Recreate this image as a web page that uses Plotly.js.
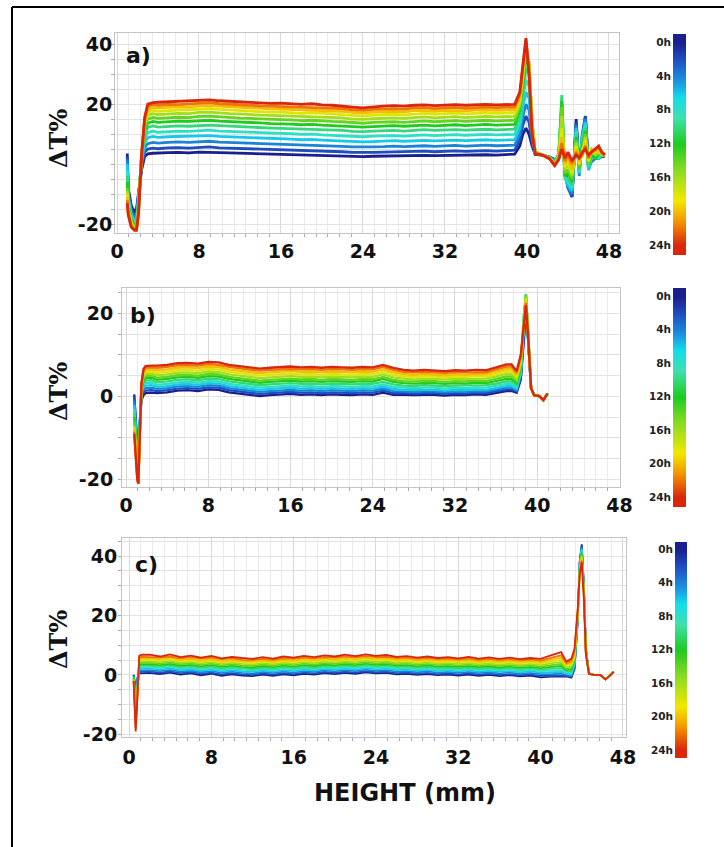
<!DOCTYPE html>
<html><head><meta charset="utf-8">
<script src="https://cdn.plot.ly/plotly-3.0.1.min.js"></script>
<style>html,body{margin:0;padding:0;background:#fff}#chart{width:724px;height:847px}</style>
</head><body><div id="chart"></div>
<script>
// ---------- categories / ticks ----------
const hours = [0,2,4,6,8,10,12,14,16,18,20,22,24];
const hourTicks = [0,4,8,12,16,20,24];
const hourLabels = ['0h','4h','8h','12h','16h','20h','24h'];
const barHours = [-1,0,2,4,6,8,10,12,14,16,18,20,22,24,25.5];
const yTicksA = [-20,20,40];
const yTicksB = [-20,0,20];
const yTicksC = [-20,0,20,40];

// ---------- panel a ----------
const xA = [1.0,1.1,1.4,1.7,1.9,2.1,2.4,2.7,3.0,3.5,
4,5,6,7,8,9,10,11,12,13,14,15,16,17,18,19,20,21,22,23,24,25,26,27,28,29,30,31,32,33,34,35,36,37,38,
38.8,39.3,39.6,39.9,40.2,40.5,40.8,41.5,42.2,42.7,
43.1,43.4,43.7,44.0,44.4,44.8,45.1,45.4,45.7,46.0,46.3,46.7,47.0,47.3,47.6];
const a00 = [3.5,-8,-14,-16,-15,-9,-2,2.5,3.4,3.6,
3.6,3.8,3.9,3.7,4.0,4.0,3.8,3.7,3.6,3.5,3.4,3.3,3.3,3.2,3.1,3.1,2.9,2.8,2.8,2.6,2.5,2.6,2.7,2.8,2.7,2.9,2.9,2.8,2.9,3.0,2.9,3.0,3.1,3.0,3.2,
3.3,6,10,12,10,6,3.2,3.0,2.3,1.5,
2,12,-1,-7,-11,15,-2,8,16,0,1,2,2,2.5,2.7];
const a02 = [2.5,-9,-15,-17,-16.5,-10,-1,4,5.0,5.3,
5.1,5.4,5.5,5.3,5.6,5.7,5.4,5.3,5.2,5.0,4.9,4.8,4.8,4.6,4.5,4.6,4.3,4.2,4.1,3.9,3.8,3.9,4.0,4.1,4.0,4.2,4.3,4.1,4.3,4.4,4.2,4.4,4.5,4.3,4.5,
4.6,8,13,16,14,7,3.4,3.0,2.3,1.4,
2,14,-2,-8,-11,14,-3,10,16,-1,1,2,2,2.5,2.7];
const a04 = [1.5,-10,-16,-18,-18,-11,0,5.5,6.8,7.2,
7.0,7.2,7.4,7.2,7.5,7.6,7.3,7.2,7.0,6.9,6.8,6.6,6.6,6.4,6.3,6.4,6.1,6.0,5.9,5.7,5.6,5.7,5.8,6.0,5.8,6.0,6.1,5.9,6.1,6.2,6.0,6.2,6.3,6.1,6.3,
6.3,10,16,20,18,9,3.6,3.0,2.2,1.2,
2.5,16,-3,-8,-10,13,-4,10,15,-2,1,2,2,3,2.7];
const a06 = [0,-11,-17,-19,-19,-12,1,7,8.8,9.2,
8.9,9.1,9.2,9.1,9.4,9.5,9.2,9.1,8.9,8.8,8.6,8.5,8.5,8.3,8.1,8.2,8.0,7.8,7.7,7.5,7.4,7.5,7.6,7.8,7.6,7.8,7.9,7.7,7.9,8.0,7.8,8.0,8.1,7.9,8.0,
8.1,12,19,24,22,10,3.8,3.0,2.2,1.0,
3,18,-4,-7,-9,12,-3,9,14,-2,2,3,2,3,2.7];
const a08 = [-2,-12,-17.5,-19.5,-19.5,-12.5,2,8.5,10.5,11.0,
10.6,10.8,11.0,10.9,11.2,11.3,11.0,10.9,10.7,10.5,10.4,10.3,10.2,10.1,9.9,10.0,9.7,9.6,9.5,9.2,9.1,9.3,9.4,9.5,9.3,9.6,9.7,9.5,9.7,9.8,9.6,9.8,9.9,9.7,9.8,
9.9,14,22,28,26,12,4.0,3.0,2.1,0.8,
3,20,-5,-6,-8,11,-3,8,13,-1,2,3,2,3,2.8];
const a10 = [-4,-13,-18,-20,-20,-13,2.5,10,12.2,12.7,
12.3,12.6,12.7,12.6,12.9,13.0,12.8,12.6,12.4,12.3,12.1,12.0,11.9,11.8,11.6,11.7,11.4,11.3,11.2,10.9,10.8,11.0,11.1,11.2,11.0,11.3,11.5,11.2,11.4,11.5,11.3,11.5,11.6,11.4,11.5,
11.6,16,25,32,30,13,4.0,3.0,2.1,0.6,
3.5,23,-4,-5,-7,10,-2,7,12,-1,3,2,3,3,2.8];
const a12 = [-6,-14,-18.5,-20.5,-20.5,-13.5,3,11,13.6,14.2,
13.9,14.1,14.3,14.2,14.5,14.6,14.3,14.2,14.0,13.8,13.7,13.5,13.5,13.3,13.1,13.2,13.0,12.8,12.7,12.4,12.3,12.5,12.6,12.8,12.6,12.9,13.0,12.7,12.9,13.1,12.8,13.1,13.2,13.0,13.1,
13.2,18,27,35,33,14,4.0,3.0,2.0,0.4,
3,21,-4,-3,-6,9,-1,6,11,0,3,2,4,3,2.8];
const a14 = [-8,-14.5,-19,-21,-21,-14,3,12,15.0,15.5,
15.2,15.5,15.6,15.5,15.9,16.0,15.7,15.6,15.3,15.2,15.0,14.9,14.8,14.7,14.5,14.6,14.3,14.2,14.1,13.8,13.6,13.9,14.0,14.1,13.9,14.2,14.4,14.1,14.3,14.5,14.2,14.5,14.6,14.4,14.5,
14.6,19,29,37,34,14,4.0,3.0,2.0,0.2,
3,19,-3,-2,-5,8,-1,5,10,0,4,3,4,3,3];
const a16 = [-9,-15,-19.5,-21.5,-21.5,-14.5,3.5,13,16.2,16.8,
16.5,16.7,16.9,16.8,17.2,17.3,17.0,16.8,16.7,16.4,16.3,16.2,16.1,16.0,15.8,15.9,15.6,15.5,15.4,15.0,14.9,15.1,15.3,15.4,15.2,15.5,15.7,15.4,15.6,15.8,15.5,15.8,15.9,15.7,15.8,
15.9,20,30,39,34,14,3.9,3.0,2.0,0,
2.5,16,-2,0,-4,7,0,4,9,1,4,3,4,3,3];
const a18 = [-10,-15.5,-20,-22,-22,-15,3.5,14,17.2,17.8,
17.6,17.9,18.0,18.1,18.3,18.5,18.2,18.0,17.8,17.6,17.5,17.3,17.3,17.1,16.9,17.1,16.8,16.7,16.5,16.2,16.0,16.3,16.4,16.6,16.4,16.7,16.9,16.6,16.8,17.0,16.7,17.0,17.1,16.9,17.0,
17.1,21,31,40,33,13,3.8,3.0,1.9,-0.2,
2,12,-1,1,-3,6,0,4,8,1,5,4,4.5,3.5,3];
const a20 = [-11,-16,-20.5,-22,-22,-15.5,3.5,14.5,18.2,18.8,
18.7,18.9,19.1,19.0,19.4,19.5,19.3,19.0,18.9,18.6,18.5,18.4,18.3,18.2,18.0,18.1,17.8,17.7,17.6,17.2,17.0,17.3,17.5,17.6,17.4,17.8,17.8,17.6,17.9,17.9,17.7,18.0,18.1,17.9,18.0,
18.1,22,32,41,32,12,3.7,3.0,1.9,-0.3,
2,9,0,2,-2,5,1,3,7,2,5,4,5,3.5,3];
const a22 = [-12,-16.5,-21,-22,-22,-16,3,15,19.2,19.8,
19.6,19.9,19.8,20.1,20.3,20.5,20.1,20.0,19.7,19.6,19.4,19.3,19.2,19.1,18.9,19.0,18.8,18.6,18.5,18.1,17.9,18.2,18.4,18.5,18.3,18.7,18.8,18.5,18.7,18.9,18.6,18.9,19.0,18.8,18.9,
19.0,23,33,41.5,31,11,3.6,3.0,1.8,-0.4,
1.8,7,1,3,0,4,2,3,6,2,4,5,5.5,4,3];
const a24 = [-13,-17,-21,-22,-22,-16.5,3,15.5,20.0,20.5,
20.6,20.8,20.9,21.0,21.3,21.4,21.1,20.9,20.7,20.5,20.4,20.2,20.3,20.0,19.9,20.1,19.7,19.6,19.4,19.0,18.7,19.1,19.3,19.5,19.3,19.6,19.7,19.5,19.7,19.8,19.6,19.8,19.9,19.7,19.8,
19.9,24,34,42,30,10,3.5,3.0,1.8,-0.5,
1.5,5,2,4,1,3,2,4,5,3,4,5,6,4,3];

// ---------- panel b ----------
const xB = [0.8,0.9,1.0,1.1,1.2,1.35,1.5,1.7,1.9,2.5,
3,4,5,6,7,8,9,10,11,12,13,14,15,16,17,18,19,20,21,22,23,24,25,26,27,28,29,30,31,32,33,34,35,36,37,
37.5,38.0,38.4,38.7,38.9,39.1,39.4,39.7,40.2,40.6,41.0];
const b00 = [0.5,-3,-8,-13,-15,-6,-1,0.3,0.8,0.9,
0.8,1.0,1.4,1.5,1.3,1.7,1.6,1.0,0.7,0.3,0.1,0.3,0.4,0.6,0.4,0.5,0.3,0.5,0.4,0.3,0.5,0.4,0.9,0.4,0.4,0.3,0.4,0.4,0.2,0.4,0.3,0.5,0.4,0.8,1.3,
1.3,0.9,4,15,20,14,2,0.3,0.1,-0.9,0.7];
const b02 = [0,-4,-9,-14,-16,-6,0,1.0,1.4,1.5,
1.3,1.5,1.9,2.0,1.8,2.2,2.1,1.5,1.2,0.8,0.6,0.8,0.9,1.1,0.9,1.0,0.8,1.0,0.9,0.8,1.0,0.9,1.4,0.8,0.8,0.7,0.8,0.8,0.6,0.8,0.7,0.9,0.8,1.2,1.7,
1.7,1.2,4.5,16,21,14.5,2,0.3,0.1,-0.9,0.7];
const b04 = [-1,-5,-10,-15,-17,-6,0.5,1.6,2.0,2.1,
1.8,2.0,2.4,2.5,2.3,2.7,2.6,2.0,1.7,1.3,1.1,1.3,1.4,1.6,1.4,1.5,1.3,1.5,1.4,1.3,1.5,1.4,1.9,1.3,1.2,1.1,1.2,1.2,1.0,1.2,1.1,1.3,1.2,1.6,2.1,
2.1,1.5,5,17,22,15,2,0.3,0.1,-0.9,0.7];
const b06 = [-2,-6,-11,-16,-18,-7,1,2.2,2.6,2.7,
2.3,2.5,2.9,3.0,2.8,3.2,3.1,2.5,2.2,1.8,1.6,1.8,1.9,2.1,1.9,2.0,1.8,2.0,1.9,1.8,2.0,1.9,2.4,1.8,1.6,1.5,1.6,1.6,1.4,1.6,1.5,1.7,1.6,2.0,2.5,
2.5,1.8,5.5,18,23,15.5,2,0.3,0.1,-0.9,0.7];
const b08 = [-3,-7,-12,-17,-19,-7,1.5,2.8,3.2,3.3,
2.8,3.0,3.4,3.5,3.3,3.7,3.6,3.0,2.7,2.3,2.1,2.3,2.4,2.6,2.4,2.5,2.3,2.5,2.4,2.3,2.5,2.4,2.9,2.3,2.1,2.0,2.1,2.1,1.9,2.1,2.0,2.2,2.1,2.5,3.0,
3.0,2.2,6,18.5,24,16,2,0.3,0.1,-0.9,0.7];
const b10 = [-4,-8,-13,-17.5,-19.5,-7.5,2,3.3,3.8,3.9,
3.4,3.6,4.0,4.1,3.9,4.3,4.2,3.6,3.3,2.9,2.7,2.9,3.0,3.2,3.0,3.1,2.9,3.1,3.0,2.9,3.1,3.0,3.5,2.9,2.6,2.5,2.7,2.6,2.5,2.6,2.6,2.7,2.7,3.1,3.6,
3.6,2.7,6.5,19,24.5,16.5,2,0.3,0.1,-0.9,0.7];
const b12 = [-5,-9,-14,-18,-20,-8,2,3.8,4.4,4.5,
4.0,4.2,4.6,4.7,4.5,4.9,4.8,4.2,3.9,3.5,3.3,3.5,3.6,3.8,3.6,3.7,3.5,3.7,3.6,3.5,3.7,3.6,4.2,3.5,3.2,3.1,3.2,3.2,3.0,3.2,3.1,3.3,3.2,3.7,4.2,
4.2,3.2,7,19.5,24.5,16.5,2,0.3,0.1,-0.9,0.7];
const b14 = [-6,-10,-15,-18.5,-20.5,-8,2.5,4.3,4.9,5.0,
4.5,4.7,5.1,5.2,5.0,5.4,5.3,4.7,4.4,4.0,3.8,4.0,4.1,4.3,4.1,4.2,4.0,4.2,4.1,4.0,4.2,4.1,4.7,4.0,3.7,3.6,3.7,3.7,3.5,3.7,3.6,3.8,3.7,4.2,4.8,
4.8,3.7,7.5,19.5,24.5,16,2,0.3,0.1,-0.9,0.7];
const b16 = [-7,-11,-15.5,-19,-21,-8.5,2.5,4.8,5.4,5.5,
5.1,5.3,5.7,5.8,5.6,6.0,5.9,5.3,5.0,4.6,4.4,4.6,4.7,4.9,4.7,4.8,4.6,4.8,4.7,4.6,4.8,4.7,5.3,4.6,4.3,4.1,4.3,4.2,4.1,4.2,4.2,4.3,4.3,4.8,5.4,
5.4,4.2,8,19,24,16,2,0.3,0.1,-0.9,0.7];
const b18 = [-7.5,-11.5,-16,-19.5,-21,-8.5,3,5.3,5.9,6.0,
5.7,5.9,6.3,6.4,6.2,6.6,6.5,5.9,5.6,5.2,5.0,5.2,5.3,5.5,5.3,5.4,5.2,5.4,5.3,5.2,5.4,5.3,5.9,5.2,4.8,4.7,4.8,4.8,4.6,4.8,4.7,4.9,4.8,5.4,6.0,
6.0,4.7,8.5,19,23.5,15.5,2,0.3,0.1,-0.9,0.7];
const b20 = [-8,-12,-16.5,-20,-21,-9,3,5.8,6.4,6.5,
6.3,6.5,6.9,7.0,6.8,7.2,7.1,6.5,6.2,5.8,5.6,5.8,5.9,6.1,5.9,6.0,5.8,6.0,5.9,5.8,6.0,5.9,6.5,5.8,5.4,5.2,5.4,5.3,5.1,5.3,5.2,5.4,5.3,6.0,6.6,
6.6,5.2,9,18.5,23,15.5,2,0.3,0.1,-0.9,0.7];
const b22 = [-8.5,-12.5,-17,-20,-21,-9,3,6.2,6.9,7.0,
6.9,7.1,7.5,7.5,7.4,7.8,7.6,7.1,6.8,6.4,6.2,6.4,6.5,6.6,6.5,6.6,6.4,6.6,6.5,6.4,6.6,6.5,7.1,6.4,5.9,5.8,5.9,5.8,5.7,5.8,5.8,5.9,5.8,6.5,7.2,
7.2,5.7,9.6,18,22.5,15,2,0.3,0.1,-0.9,0.7];
const b24 = [-9,-13,-17,-20,-21,-9,3,6.6,7.3,7.4,
7.4,7.6,8.0,8.1,7.9,8.3,8.2,7.6,7.3,6.9,6.7,6.9,7.0,7.2,7.0,7.1,6.9,7.1,7.0,6.9,7.1,7.0,7.6,6.9,6.4,6.2,6.4,6.3,6.1,6.3,6.2,6.4,6.3,7.0,7.7,
7.7,6.1,10,18,22,15,2,0.3,0.1,-0.9,0.7];

// ---------- panel c ----------
const xC = [0.45,0.55,0.65,0.75,0.85,1.0,1.3,
2,3,4,5,6,7,8,9,10,11,12,13,14,15,16,17,18,19,20,21,22,23,24,25,26,27,28,29,30,31,32,33,34,35,36,37,38,39,40,41,42,
42.5,43.0,43.3,43.6,43.8,44.0,44.2,44.4,44.7,45.2,45.8,46.3,46.7,47.1];
const c00 = [0,-2,-4,-3,-0.5,0.5,0.6,
0.7,0.3,0.8,0.1,0.5,-0.1,0.4,-0.3,0.2,-0.2,-0.4,0.1,-0.3,0.2,-0.1,0.4,0.1,0.6,0.3,0.7,0.4,0.9,0.5,0.7,0.2,0.4,0.0,0.3,-0.1,0.1,-0.2,0.1,-0.3,0.0,-0.4,-0.1,-0.5,-0.2,-0.8,-0.6,-0.5,
-0.5,-0.9,2,17.5,38,44,30.5,9,0.5,0,0,-1.5,-0.3,1.0];
const c02 = [0,-3,-5,-4,-1,1.0,1.1,
1.2,0.8,1.2,0.6,0.9,0.4,0.8,0.2,0.6,0.2,0.0,0.5,0.1,0.6,0.3,0.8,0.5,1.0,0.7,1.1,0.8,1.3,0.9,1.1,0.6,0.8,0.4,0.7,0.3,0.5,0.2,0.5,0.1,0.4,0.0,0.3,-0.1,0.2,-0.3,-0.2,-0.1,
-0.3,-0.6,2.5,18,38,43.5,30,8.5,0.5,0,0,-1.5,-0.3,1.0];
const c04 = [-0.5,-4,-6.5,-5,-1,1.5,1.6,
1.6,1.3,1.7,1.1,1.4,0.9,1.3,0.7,1.1,0.7,0.5,1.0,0.6,1.1,0.8,1.3,1.0,1.5,1.2,1.6,1.3,1.8,1.4,1.6,1.1,1.3,0.9,1.2,0.8,1.0,0.7,1.0,0.6,0.9,0.5,0.8,0.4,0.7,0.3,0.3,0.4,
0,-0.3,3,18,37.5,43,30,8.5,0.5,0,0,-1.5,-0.3,1.0];
const c06 = [-0.5,-5,-8,-6,-1.5,2.0,2.1,
2.1,1.8,2.2,1.6,1.9,1.4,1.8,1.2,1.6,1.2,1.0,1.5,1.1,1.6,1.3,1.8,1.5,2.0,1.7,2.1,1.8,2.3,1.9,2.1,1.6,1.8,1.4,1.7,1.3,1.5,1.2,1.5,1.1,1.4,1.0,1.3,0.9,1.2,0.8,0.9,1.0,
0.4,0.1,3.5,18.5,37,42.5,29.5,8.5,0.5,0,0,-1.5,-0.3,1.0];
const c08 = [-1,-6,-9.5,-7,-1.5,2.5,2.6,
2.6,2.3,2.7,2.1,2.4,1.9,2.3,1.7,2.1,1.7,1.5,2.0,1.6,2.1,1.8,2.3,2.0,2.5,2.2,2.6,2.3,2.8,2.4,2.6,2.1,2.3,1.9,2.2,1.8,2.0,1.7,2.0,1.6,1.9,1.5,1.8,1.4,1.7,1.3,1.5,1.6,
0.8,0.6,4,18.5,37,42,29.5,8,0.5,0,0,-1.5,-0.3,1.0];
const c10 = [-1,-7,-11,-8,-2,3.0,3.1,
3.1,2.8,3.2,2.6,2.9,2.4,2.8,2.2,2.6,2.2,2.0,2.5,2.1,2.6,2.3,2.8,2.5,3.0,2.7,3.1,2.8,3.3,2.9,3.1,2.6,2.8,2.4,2.7,2.3,2.5,2.2,2.5,2.1,2.4,2.0,2.3,1.9,2.2,1.8,2.1,2.3,
1.2,1.2,4.5,19,36.5,41.5,29,8,0.4,0,0,-1.5,-0.3,1.0];
const c12 = [-1,-7.5,-12,-9,-2,3.5,3.6,
3.6,3.3,3.7,3.1,3.4,2.9,3.3,2.7,3.1,2.7,2.5,3.0,2.6,3.1,2.8,3.3,3.0,3.5,3.2,3.6,3.3,3.8,3.4,3.6,3.1,3.3,2.9,3.2,2.8,3.0,2.7,3.0,2.6,2.9,2.5,2.8,2.4,2.7,2.3,2.7,3.0,
1.6,1.8,5,19,36,41,29,8,0.4,0,0,-1.5,-0.3,1.0];
const c14 = [-1.5,-8,-13,-9.5,-2,4.0,4.1,
4.1,3.8,4.2,3.6,3.9,3.4,3.8,3.2,3.6,3.2,3.0,3.5,3.1,3.6,3.3,3.8,3.5,4.0,3.7,4.1,3.8,4.3,3.9,4.1,3.6,3.8,3.4,3.7,3.3,3.5,3.2,3.5,3.1,3.4,3.0,3.3,2.9,3.2,2.8,3.3,3.7,
2.0,2.4,5.5,19.5,35.5,40.5,28.5,8,0.4,0,0,-1.5,-0.3,1.0];
const c16 = [-1.5,-8.5,-14.5,-10,-2.5,4.5,4.6,
4.6,4.3,4.7,4.1,4.4,3.9,4.3,3.7,4.1,3.7,3.5,4.0,3.6,4.1,3.8,4.3,4.0,4.5,4.2,4.6,4.3,4.8,4.4,4.6,4.1,4.3,3.9,4.2,3.8,4.0,3.7,4.0,3.6,3.9,3.5,3.8,3.4,3.7,3.3,3.9,4.4,
2.5,3.0,6,19.5,35,40,28,7.5,0.4,0,0,-1.5,-0.3,1.0];
const c18 = [-1.5,-9,-15.5,-11,-2.5,5.0,5.1,
5.1,4.8,5.2,4.6,4.9,4.4,4.8,4.2,4.6,4.2,4.0,4.5,4.1,4.6,4.3,4.8,4.5,5.0,4.7,5.1,4.8,5.3,4.9,5.1,4.6,4.8,4.4,4.7,4.3,4.5,4.2,4.5,4.1,4.4,4.0,4.3,3.9,4.2,3.8,4.5,5.1,
3.0,3.6,6.5,20,34.5,39.5,28,7.5,0.3,0,0,-1.5,-0.3,1.0];
const c20 = [-2,-9.5,-17,-11.5,-2.5,5.5,5.6,
5.6,5.3,5.8,5.1,5.4,4.9,5.3,4.7,5.0,4.7,4.5,4.9,4.6,5.1,4.8,5.3,5.0,5.5,5.2,5.6,5.3,5.8,5.4,5.6,5.1,5.3,4.9,5.2,4.8,5.0,4.7,5.0,4.6,4.9,4.5,4.8,4.4,4.7,4.3,5.1,5.8,
3.5,4.2,7,20,34,39,27.5,7.5,0.3,0,0,-1.5,-0.3,1.0];
const c22 = [-2,-10,-18,-12,-3,6.0,6.1,
6.1,5.9,6.2,5.6,6.0,5.5,5.8,5.3,5.6,5.1,5.0,5.4,5.1,5.6,5.4,5.8,5.6,6.0,5.8,6.2,5.9,6.3,6.0,6.1,5.7,5.8,5.4,5.7,5.3,5.5,5.2,5.5,5.1,5.4,5.0,5.3,4.9,5.2,4.8,5.7,6.6,
4.0,4.8,8,21,34,38.5,27,7,0.3,0,0,-1.5,-0.3,1.0];
const c24 = [-2,-10.5,-19,-12.5,-3,6.5,6.8,
6.8,6.2,6.9,6.0,6.5,5.8,6.4,5.6,6.1,5.7,5.4,6.0,5.5,6.2,5.8,6.4,6.0,6.6,6.2,6.8,6.3,6.9,6.4,6.7,6.1,6.3,5.8,6.2,5.7,6.0,5.6,6.1,5.5,5.9,5.4,5.8,5.3,5.7,5.4,6.6,7.7,
4.5,5.5,9,22,34,38,26,7,0.3,0,0,-1.5,-0.3,1.0];

const curvesA = [a00,a02,a04,a06,a08,a10,a12,a14,a16,a18,a20,a22,a24];
const curvesB = [b00,b02,b04,b06,b08,b10,b12,b14,b16,b18,b20,b22,b24];
const curvesC = [c00,c02,c04,c06,c08,c10,c12,c14,c16,c18,c20,c22,c24];

// ---------- styling ----------
const W = 724, H = 847;
const px = v => v / W, py = v => 1 - v / H;
const jet = [[0,'#1a1f8e'],[0.1,'#1f56c8'],[0.2,'#1b9be0'],[0.27,'#12dcec'],[0.37,'#3fe0ae'],
             [0.5,'#1ecb1e'],[0.64,'#8fdc22'],[0.78,'#f2e800'],[0.88,'#f59800'],[1,'#d9260c']];
function hex2rgb(h){return [parseInt(h.slice(1,3),16),parseInt(h.slice(3,5),16),parseInt(h.slice(5,7),16)];}
function colorAt(t){
  for(let i=1;i<jet.length;i++){
    if(t<=jet[i][0]){
      const a=jet[i-1], b=jet[i], f=(t-a[0])/(b[0]-a[0]);
      const ca=hex2rgb(a[1]), cb=hex2rgb(b[1]);
      return 'rgb('+ca.map((v,k)=>Math.round(v+(cb[k]-v)*f)).join(',')+')';
    }
  }
  return jet[jet.length-1][1];
}

const tickFont = {family:'DejaVu Sans', size:19, color:'#111', weight:'bold'};
function xAxis(d0,d1,range,anchor,standoff){
  return {domain:[px(d0),px(d1)], range:range, anchor:anchor, tickmode:'linear', tick0:0, dtick:8,
    ticks:'', showline:true, mirror:true, linecolor:'#c4c4c4', linewidth:1,
    showgrid:true, gridcolor:'#d8d8d8', zeroline:false, tickfont:tickFont, ticklabelstandoff:standoff,
    minor:{tickmode:'linear', tick0:0, dtick:8/7, showgrid:true, gridcolor:'#ebebeb', ticks:'outside', ticklen:3, tickcolor:'#aaa'}};
}
function yAxis(d0,d1,range,anchor,tv,standoff){
  return {domain:[py(d1),py(d0)], range:range, anchor:anchor, tickmode:'array', tickvals:tv,
    ticktext:tv.map(v=>String(v)),
    ticks:'', showline:true, mirror:true, linecolor:'#c4c4c4', linewidth:1,
    showgrid:false, zeroline:false, tickfont:tickFont, ticklabelstandoff:standoff,
    minor:{tickmode:'linear', tick0:0, dtick:5, showgrid:true, gridcolor:'#e2e2e2', ticks:'outside', ticklen:3, tickcolor:'#aaa'}};
}
function barX(d0,d1,anchor){return {domain:[px(d0),px(d1)], range:[-0.5,1.5], visible:false, anchor:anchor, fixedrange:true};}
function barY(d0,d1,range,anchor){
  return {domain:[py(d1),py(d0)], range:range, anchor:anchor, tickmode:'array', tickvals:hourTicks, ticktext:hourLabels,
    ticks:'', showgrid:false, zeroline:false, showline:false, side:'left', ticklabelstandoff:1,
    tickfont:{family:'DejaVu Sans', size:10.5, color:'#222', weight:'bold'}};
}

const traces = [];
function addPanel(xs, curves, xa, ya, w){
  curves.forEach((ys,i)=>{
    traces.push({type:'scatter', mode:'lines', x:xs, y:ys, xaxis:xa, yaxis:ya,
      line:{color:colorAt(hours[i]/24), width:w}, hoverinfo:'skip', showlegend:false});
  });
}
addPanel(xA, curvesA, 'x', 'y', 2.8);
addPanel(xB, curvesB, 'x2', 'y2', 2.3);
addPanel(xC, curvesC, 'x3', 'y3', 1.8);

[['x4','y4'],['x5','y5'],['x6','y6']].forEach(([xa,ya])=>{
  traces.push({type:'heatmap', x:[0,1], y:barHours, z:barHours.map(h=>[h,h]), zmin:0, zmax:24,
    colorscale:jet, zsmooth:'best', showscale:false, xaxis:xa, yaxis:ya, hoverinfo:'skip'});
});

const ann = [];
function label(text,x,y,size,family,angle){
  ann.push({text:text, x:px(x), y:py(y), xref:'paper', yref:'paper', showarrow:false,
    xanchor:'center', yanchor:'middle', textangle:angle||0,
    font:{family:family, size:size, color:'#111', weight:'bold'}});
}
label('a)',138,55,22,'DejaVu Sans');
label('b)',143,316,22,'DejaVu Sans');
label('c)',146,564,22,'DejaVu Sans');
label('ΔT%',58,139,24,'DejaVu Serif',-90);
label('ΔT%',58,392,24,'DejaVu Serif',-90);
label('ΔT%',58,640,24,'DejaVu Serif',-90);
label('HEIGHT (mm)',405,793,24,'DejaVu Sans');

const layout = {
  width:W, height:H, margin:{l:0,r:0,t:0,b:0}, paper_bgcolor:'#fff', plot_bgcolor:'#fff', showlegend:false,
  xaxis: xAxis(115,619,[-0.195,48.98],'y',1),
  yaxis: yAxis(33,233,[-23,43.7],'x',yTicksA,-2),
  xaxis2: xAxis(122,620,[-0.39,48.05],'y2',1),
  yaxis2: yAxis(288,487,[-21.8,26.1],'x2',yTicksB,4),
  xaxis3: xAxis(122,626,[-0.68,48.3],'y3',3),
  yaxis3: yAxis(538,737,[-20.9,46.1],'x3',yTicksC,0),
  xaxis4: barX(673,686,'y4'), yaxis4: barY(34,255,[25.18,-0.95],'x4'),
  xaxis5: barX(673,686,'y5'), yaxis5: barY(288,507,[25.2,-0.96],'x5'),
  xaxis6: barX(675,687,'y6'), yaxis6: barY(542,758,[24.95,-0.84],'x6'),
  annotations: ann,
  shapes:[
    {type:'line', xref:'paper', yref:'paper', x0:px(12), x1:1, y0:py(7), y1:py(7), line:{color:'#000', width:2}},
    {type:'line', xref:'paper', yref:'paper', x0:px(12), x1:px(12), y0:py(7), y1:0, line:{color:'#000', width:2}}
  ]
};
Plotly.newPlot('chart', traces, layout, {displayModeBar:false, staticPlot:true});
</script></body></html>
